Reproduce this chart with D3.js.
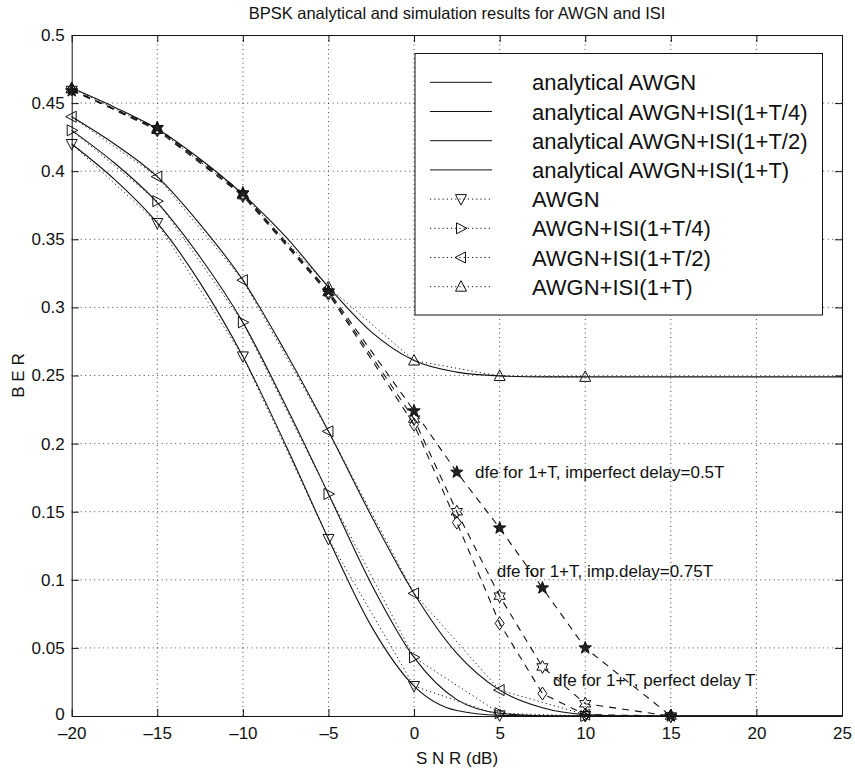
<!DOCTYPE html>
<html lang="en">
<head>
<meta charset="utf-8">
<title>BPSK BER</title>
<script src="https://cdnjs.cloudflare.com/ajax/libs/d3/7.8.5/d3.min.js"></script>
<style>
  body { margin: 0; background: #fff; }
  text { font-family: "Liberation Sans", Arial, Helvetica, sans-serif; fill: #111; }
</style>
</head>
<body>
<script>
// ---- data ----
var xTicks = [-20, -15, -10, -5, 0, 5, 10, 15, 20, 25];
var yTicks = [0, 0.05, 0.1, 0.15, 0.2, 0.25, 0.3, 0.35, 0.4, 0.45, 0.5];

// analytical curves, 2.5 dB steps
var snrFine = [-20, -17.5, -15, -12.5, -10, -7.5, -5, -2.5, 0, 2.5, 5, 7.5, 10, 12.5, 15, 17.5, 20, 22.5, 25];
var anaAwgn = [0.42, 0.394, 0.362, 0.318, 0.264, 0.199, 0.13, 0.066, 0.022, 0.004, 0.0005, 0, 0, 0, 0, 0, 0, 0, 0];
var anaT4   = [0.43, 0.406, 0.377, 0.337, 0.289, 0.228, 0.163, 0.097, 0.043, 0.012, 0.002, 0.0002, 0, 0, 0, 0, 0, 0, 0];
var anaT2   = [0.44, 0.42, 0.396, 0.361, 0.32, 0.267, 0.209, 0.147, 0.09, 0.046, 0.019, 0.006, 0.001, 0, 0, 0, 0, 0, 0];
var anaT    = [0.461, 0.447, 0.431, 0.409, 0.383, 0.352, 0.315, 0.282, 0.261, 0.2525, 0.2497, 0.249, 0.249, 0.249, 0.249, 0.249, 0.249, 0.249, 0.249];

// simulation points, 5 dB steps
var snrSim = [-20, -15, -10, -5, 0, 5, 10];
var simAwgn = [0.42, 0.362, 0.264, 0.13, 0.022, 0.0005, 0];
var simT4   = [0.43, 0.378, 0.289, 0.163, 0.043, 0.002, 0];
var simT2   = [0.44, 0.396, 0.32, 0.209, 0.09, 0.019, 0.001];
var simT    = [0.461, 0.431, 0.383, 0.315, 0.261, 0.2496, 0.249];

// dfe results
var snrDfe = [-20, -15, -10, -5, 0, 2.5, 5, 7.5, 10, 15];
var dfeHalf  = [0.459, 0.432, 0.384, 0.312, 0.224, 0.179, 0.138, 0.094, 0.05, 0];
var dfe3q    = [0.46, 0.431, 0.383, 0.311, 0.218, 0.15, 0.088, 0.036, 0.009, 0];
var dfePerf  = [0.46, 0.43, 0.382, 0.31, 0.214, 0.142, 0.068, 0.0165, 0.001, 0];

var legendLabels = ["analytical AWGN", "analytical AWGN+ISI(1+T/4)", "analytical AWGN+ISI(1+T/2)",
  "analytical AWGN+ISI(1+T)", "AWGN", "AWGN+ISI(1+T/4)", "AWGN+ISI(1+T/2)", "AWGN+ISI(1+T)"];

var noteText = ["dfe for 1+T, imperfect delay=0.5T", "dfe for 1+T, imp.delay=0.75T", "dfe for 1+T, perfect delay T"];
var noteSnr = [3.56, 4.83, 8.12];
var noteBer = [0.1747, 0.102, 0.022];

// ---- layout ----
var W = 855, H = 770;
var x = d3.scaleLinear().domain([-20, 25]).range([71.7, 842]);
var y = d3.scaleLinear().domain([0, 0.5]).range([716, 35]);

var svg = d3.select("body").append("svg")
  .attr("width", W).attr("height", H);

svg.append("rect").attr("width", W).attr("height", H).attr("fill", "#fff");

// marker shapes
function poly(pts) { return "M" + pts.map(function(p){ return p[0] + "," + p[1]; }).join("L") + "Z"; }
function starPts(n, r1, r2, rot) {
  var pts = [];
  for (var i = 0; i < 2 * n; i++) {
    var a = rot + i * Math.PI / n, r = i % 2 ? r2 : r1;
    pts.push([ (r * Math.sin(a)).toFixed(2), (-r * Math.cos(a)).toFixed(2) ]);
  }
  return pts;
}
var shapes = {
  down:  poly([[0, 6], [5.5, -4.5], [-5.5, -4.5]]),
  right: poly([[6, 0], [-4.5, 5.5], [-4.5, -5.5]]),
  left:  poly([[-6, 0], [4.5, 5.5], [4.5, -5.5]]),
  up:    poly([[0, -6], [5.5, 4.5], [-5.5, 4.5]]),
  pent:  poly(starPts(5, 6.5, 2.7, 0)),
  hex:   poly(starPts(6, 6.5, 3.6, 0)),
  diam:  poly([[0, -6.5], [4.5, 0], [0, 6.5], [-4.5, 0]])
};

// grid
var grid = svg.append("g").attr("stroke", "#333").attr("stroke-width", 0.9).attr("stroke-dasharray", "1,3.5");
grid.selectAll(".gx").data(xTicks.slice(1, -1)).enter().append("line")
  .attr("x1", function(d){ return x(d); }).attr("x2", function(d){ return x(d); })
  .attr("y1", y(0)).attr("y2", y(0.5));
grid.selectAll(".gy").data(yTicks.slice(1, -1)).enter().append("line")
  .attr("x1", x(-20)).attr("x2", x(25))
  .attr("y1", function(d){ return y(d); }).attr("y2", function(d){ return y(d); });

// curves
var smooth = d3.line().x(function(d){ return x(d[0]); }).y(function(d){ return y(d[1]); }).curve(d3.curveMonotoneX);
var straight = d3.line().x(function(d){ return x(d[0]); }).y(function(d){ return y(d[1]); });
function zip(a, b) { return a.map(function(v, i){ return [v, b[i]]; }); }

var plot = svg.append("g").attr("fill", "none").attr("stroke", "#111");

[anaAwgn, anaT4, anaT2, anaT].forEach(function(s) {
  plot.append("path").attr("d", smooth(zip(snrFine, s))).attr("stroke-width", 1.1);
});

var sims = [[simAwgn, "down"], [simT4, "right"], [simT2, "left"], [simT, "up"]];
sims.forEach(function(s) {
  plot.append("path").attr("d", straight(zip(snrSim, s[0])))
    .attr("stroke-width", 1).attr("stroke-dasharray", "1.2,3");
});

var dfes = [[dfeHalf, "pent"], [dfe3q, "hex"], [dfePerf, "diam"]];
dfes.forEach(function(s) {
  plot.append("path").attr("d", straight(zip(snrDfe, s[0])))
    .attr("stroke-width", 1.1).attr("stroke-dasharray", "7,6");
});

// markers
function drawMarkers(xs, ys, shape) {
  plot.selectAll(null).data(zip(xs, ys)).enter().append("path")
    .attr("d", shapes[shape])
    .attr("transform", function(d){ return "translate(" + x(d[0]) + "," + y(d[1]) + ")"; })
    .attr("fill", shape === "pent" ? "#222" : "none")
    .attr("stroke-width", 1);
}
sims.forEach(function(s){ drawMarkers(snrSim, s[0], s[1]); });
dfes.forEach(function(s){ drawMarkers(snrDfe, s[0], s[1]); });

// annotations
svg.selectAll(".note").data(noteText).enter().append("text")
  .attr("x", function(d, i){ return x(noteSnr[i]); })
  .attr("y", function(d, i){ return y(noteBer[i]); })
  .attr("font-size", 17)
  .text(function(d){ return d; });

// legend
var lg = svg.append("g");
lg.append("rect").attr("x", 415).attr("y", 53.5).attr("width", 407.5).attr("height", 261.5)
  .attr("fill", "#fff").attr("stroke", "#111").attr("stroke-width", 1);
var legShapes = ["down", "right", "left", "up"];
legendLabels.forEach(function(lab, i) {
  var cy = 82.3 + i * 29.2;
  var ln = lg.append("line").attr("x1", 430).attr("x2", 492).attr("y1", cy).attr("y2", cy)
    .attr("stroke", "#111").attr("stroke-width", 1);
  if (i >= 4) {
    ln.attr("stroke-dasharray", "1.2,3");
    lg.append("path").attr("d", shapes[legShapes[i - 4]])
      .attr("transform", "translate(461," + cy + ")")
      .attr("fill", "none").attr("stroke", "#111");
  }
  lg.append("text").attr("x", 532).attr("y", cy + 8).attr("font-size", 22).text(lab);
});

// axes (MATLAB box with inward ticks)
function fmtX(d) { return d < 0 ? "\u2013" + Math.abs(d) : String(d); }
function fmtY(d) { return String(+d.toFixed(2)); }

var axB = svg.append("g").attr("transform", "translate(0," + y(0) + ")")
  .call(d3.axisBottom(x).tickValues(xTicks).tickSizeInner(-7).tickSizeOuter(0).tickPadding(11).tickFormat(fmtX));
var axT = svg.append("g").attr("transform", "translate(0," + y(0.5) + ")")
  .call(d3.axisTop(x).tickValues(xTicks).tickSizeInner(-7).tickSizeOuter(0).tickFormat(""));
var axL = svg.append("g").attr("transform", "translate(" + x(-20) + ",0)")
  .call(d3.axisLeft(y).tickValues(yTicks).tickSizeInner(-7).tickSizeOuter(0).tickPadding(7).tickFormat(fmtY));
var axR = svg.append("g").attr("transform", "translate(" + x(25) + ",0)")
  .call(d3.axisRight(y).tickValues(yTicks).tickSizeInner(-7).tickSizeOuter(0).tickFormat(""));

[axB, axT, axL, axR].forEach(function(a) {
  a.selectAll("path,line").attr("stroke", "#111");
  a.selectAll("text").attr("font-size", 17)
    .attr("font-family", "Liberation Sans, Arial, sans-serif").attr("fill", "#111");
});
// lift the "0" y label a touch so it clears the x tick labels
axL.selectAll(".tick text").filter(function(d){ return d === 0; }).attr("dy", "0.2em");

// titles
svg.append("text").attr("x", 457).attr("y", 19).attr("text-anchor", "middle")
  .attr("font-size", 16.5).text("BPSK analytical and simulation results for AWGN and ISI");
svg.append("text").attr("x", 457).attr("y", 764).attr("text-anchor", "middle")
  .attr("font-size", 17).text("S N R (dB)");
svg.append("text").attr("transform", "translate(24," + (y(0.25)) + ") rotate(-90)")
  .attr("text-anchor", "middle").attr("font-size", 17).text("B E R");
</script>
</body>
</html>
